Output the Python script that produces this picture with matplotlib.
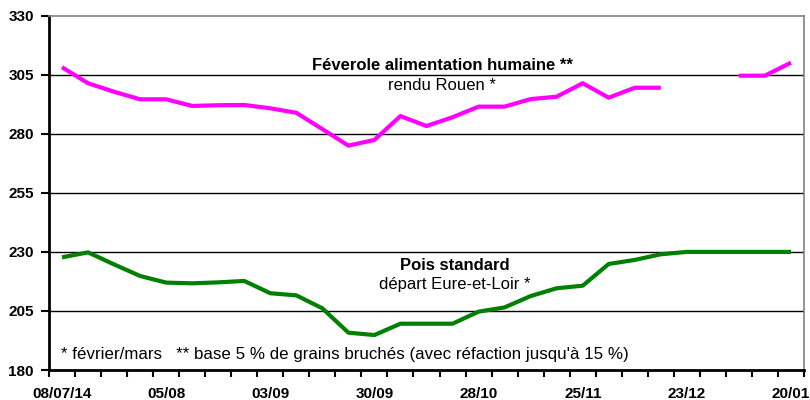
import numpy as np
import matplotlib
matplotlib.use("Agg")
import matplotlib.pyplot as plt

plt.rcParams['font.family'] = ['Liberation Sans', 'DejaVu Sans']

tick_labels = ["08/07/14", "05/08", "03/09", "30/09", "28/10", "25/11", "23/12", "20/01"]
n_weeks = 29

feverole = [308.2, 301.4, 297.8, 294.6, 294.6, 291.8, 292.1, 292.2, 290.8, 288.9,
            282.0, 275.0, 277.4, 287.5, 283.3, 287.0, 291.5, 291.5, 294.7, 295.7,
            301.4, 295.3, 299.5, 299.5, np.nan, np.nan, 304.6, 304.6, 310.1]
pois = [227.7, 229.8, 224.7, 219.8, 217.0, 216.7, 217.1, 217.7, 212.5, 211.6,
        206.1, 195.8, 194.8, 199.6, 199.6, 199.6, 204.7, 206.5, 211.3, 214.6,
        215.7, 224.9, 226.6, 229.0, 230.0, 230.0, 230.0, 230.0, 230.0]

fig = plt.figure(figsize=(8.1, 4.0), dpi=100)
ax = fig.add_axes([49/810, 1-370/400, (804-49)/810, (370-15.7)/400])

x = np.arange(n_weeks)
ax.set_xlim(-0.5, n_weeks - 0.5)
ax.set_ylim(180, 330)

for yv in [205, 230, 255, 280, 305]:
    ax.axhline(yv, color='black', lw=1.0, zorder=1)

ax.plot(x, feverole, color='#FF00FF', lw=3.0, solid_capstyle='butt', zorder=3)
ax.plot(x, pois, color='#008000', lw=3.0, solid_capstyle='butt', zorder=3)

ax.set_yticks([180, 205, 230, 255, 280, 305, 330])
ax.set_yticklabels(["180", "205", "230", "255", "280", "305", "330"],
                   fontweight='bold', fontsize=11)
ax.tick_params(axis='y', direction='out', length=6, width=1.5, pad=5)

ax.set_xticks(np.arange(n_weeks + 1) - 0.5)
ax.set_xticklabels([])
ax.tick_params(axis='x', which='major', direction='out', length=5, width=1.5)
ax.set_xticks(np.arange(0, n_weeks, 4), minor=True)
ax.set_xticklabels(tick_labels, minor=True, fontweight='bold', fontsize=11)
ax.tick_params(axis='x', which='minor', length=0, pad=12)

for s in ['left', 'bottom']:
    ax.spines[s].set_linewidth(2)
    ax.spines[s].set_color('black')
for s in ['top', 'right']:
    ax.spines[s].set_linewidth(1.2)
    ax.spines[s].set_color('#808080')

fig.text(442/810, 1-66/400, "Féverole alimentation humaine **", fontsize=12,
         fontweight='bold', ha='center', va='center')
fig.text(442/810, 1-86/400, "rendu Rouen *", fontsize=12, ha='center', va='center')
fig.text(455/810, 1-265/400, "Pois standard", fontsize=12, fontweight='bold',
         ha='center', va='center')
fig.text(455/810, 1-285/400, "départ Eure-et-Loir *", fontsize=12,
         ha='center', va='center')
fig.text(61/810, 1-354/400,
         "* février/mars   ** base 5 % de grains bruchés (avec réfaction jusqu'à 15 %)",
         fontsize=12.2, ha='left', va='center')

fig.savefig("out.png", dpi=100)
